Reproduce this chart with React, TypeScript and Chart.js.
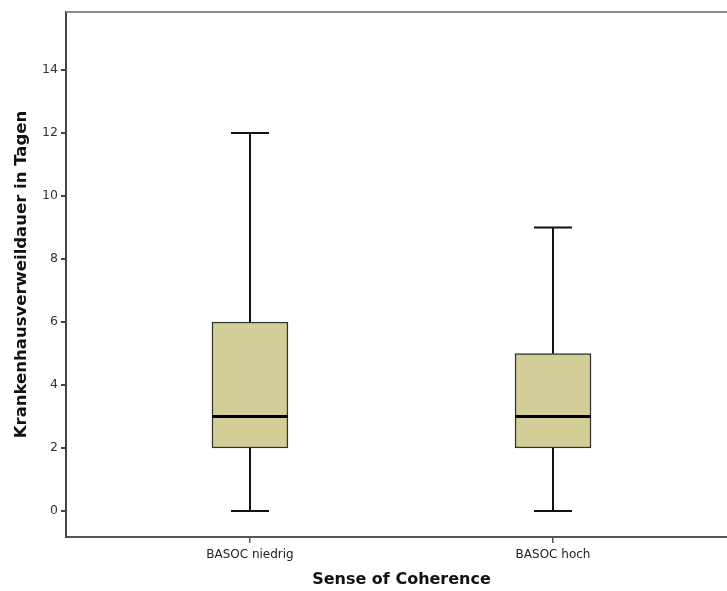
import React, { useEffect, useRef } from "react";
import { Chart, registerables } from "chart.js";

Chart.register(...registerables);

const categories = ["BASOC niedrig", "BASOC hoch"];
const mins = [0, 0];
const q1s = [2, 2];
const medians = [3, 3];
const q3s = [6, 5];
const maxs = [12, 9];
const yTickValues = [0, 2, 4, 6, 8, 10, 12, 14];

const boxPlugin = {
  id: "boxWhiskers",
  afterDatasetsDraw(chart: any) {
    const { ctx, scales, chartArea } = chart;
    const xs = scales.x;
    const ys = scales.y;
    ctx.save();
    // top frame line
    ctx.strokeStyle = "#8a8a8a";
    ctx.lineWidth = 2;
    ctx.beginPath();
    ctx.moveTo(chartArea.left, chartArea.top);
    ctx.lineTo(chartArea.right, chartArea.top);
    ctx.stroke();
    const boxW = 76;
    const capW = 38;
    categories.forEach((_, i) => {
      const x = Math.round(xs.getPixelForValue(i));
      const yMin = ys.getPixelForValue(mins[i]);
      const yQ1 = ys.getPixelForValue(q1s[i]);
      const yMed = ys.getPixelForValue(medians[i]);
      const yQ3 = ys.getPixelForValue(q3s[i]);
      const yMax = ys.getPixelForValue(maxs[i]);
      ctx.strokeStyle = "#111";
      ctx.lineWidth = 2;
      ctx.beginPath();
      ctx.moveTo(x, yQ3);
      ctx.lineTo(x, yMax);
      ctx.moveTo(x - capW / 2, yMax);
      ctx.lineTo(x + capW / 2, yMax);
      ctx.moveTo(x, yQ1);
      ctx.lineTo(x, yMin);
      ctx.moveTo(x - capW / 2, yMin);
      ctx.lineTo(x + capW / 2, yMin);
      ctx.stroke();
      ctx.strokeStyle = "#000";
      ctx.lineWidth = 3;
      ctx.beginPath();
      ctx.moveTo(x - boxW / 2, yMed);
      ctx.lineTo(x + boxW / 2, yMed);
      ctx.stroke();
    });
    ctx.restore();
  },
};

export default function App() {
  const ref = useRef<HTMLCanvasElement | null>(null);
  useEffect(() => {
    if (!ref.current) return;
    const chart = new Chart(ref.current, {
      type: "bar",
      data: {
        datasets: [
          {
            data: categories.map((_, i) => ({ x: i, y: [q1s[i], q3s[i]] })) as any,
            backgroundColor: "#d3ce97",
            borderColor: "#333",
            borderWidth: 1.5,
            borderSkipped: false,
            barThickness: 76,
          },
        ],
      },
      options: {
        responsive: false,
        animation: false,
        layout: { padding: { top: 12, left: 0, right: 0, bottom: 0 } },
        plugins: { legend: { display: false }, tooltip: { enabled: false } },
        scales: {
          x: {
            type: "linear",
            offset: false,
            min: -0.607,
            max: 1.607,
            afterBuildTicks: (s: any) => {
              s.ticks = categories.map((_, i) => ({ value: i }));
            },
            afterFit: (s: any) => {
              s.height = 54;
            },
            ticks: {
              callback: (v: any) => categories[v as number] ?? "",
              color: "#222",
              font: { family: "DejaVu Sans", size: 12 },
              padding: 5,
              maxRotation: 0,
              autoSkip: false,
            },
            grid: { offset: false, drawOnChartArea: false, drawTicks: true, tickLength: 6, color: "#555", lineWidth: 1.5 },
            border: { display: true, color: "#555", width: 2 },
            title: {
              display: true,
              text: "Sense of Coherence",
              color: "#111",
              font: { family: "DejaVu Sans", size: 16, weight: "bold" },
              padding: { top: 0, bottom: 2 },
            },
          },
          y: {
            type: "linear",
            min: -0.825,
            max: 15.84,
            afterBuildTicks: (s: any) => {
              s.ticks = yTickValues.map((v) => ({ value: v }));
            },
            afterFit: (s: any) => {
              s.width = 66;
            },
            ticks: {
              color: "#333",
              font: { family: "DejaVu Sans", size: 12.5 },
              padding: 3,
            },
            grid: { drawOnChartArea: false, drawTicks: true, tickLength: 5, color: "#444", lineWidth: 2 },
            border: { display: true, color: "#444", width: 2 },
            title: {
              display: true,
              text: "Krankenhausverweildauer in Tagen",
              color: "#111",
              font: { family: "DejaVu Sans", size: 16.5, weight: "bold" },
              padding: { top: 12, bottom: 0 },
            },
          },
        },
      },
      plugins: [boxPlugin],
    });
    return () => chart.destroy();
  }, []);
  return (
    <div style={{ position: "fixed", left: 0, top: 0, width: 727, height: 591, overflow: "hidden", background: "#fff" }}>
      <canvas ref={ref} width={737} height={591} />
    </div>
  );
}
